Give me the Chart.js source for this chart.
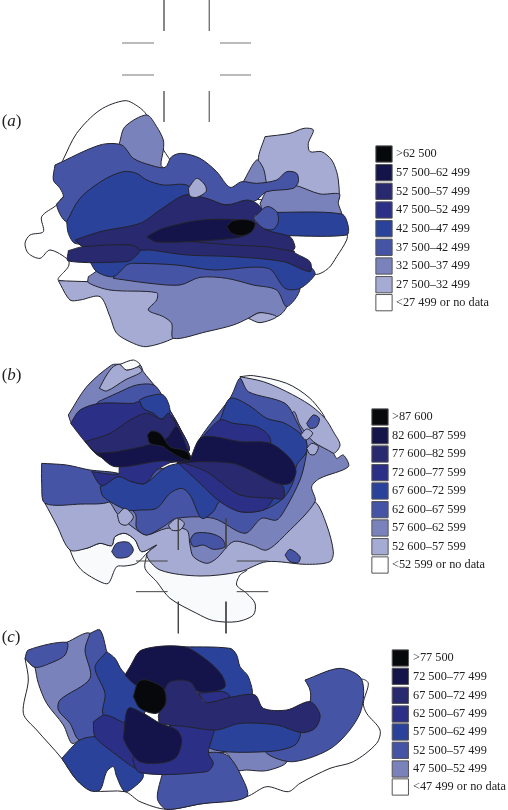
<!DOCTYPE html>
<html>
<head>
<meta charset="utf-8">
<style>
html, body { margin: 0; padding: 0; background: #fff; }
canvas { display: block; }
</style>
<script src="https://cdn.jsdelivr.net/npm/chart.js@4/dist/chart.umd.min.js"></script>
</head>
<body>
<canvas id="chart" width="508" height="810"></canvas>
<script>
// all outlines are read off the picture at 3x, per panel (y is relative to the panel top)
// shapes run on underneath the next layer up, so each border comes from the upper shape only
const black = '#07080c', c1 = '#14144a', c2 = '#28296f', c3 = '#2b2f85', c4 = '#2a429a',
      c5 = '#4554a4', c6 = '#7a82bb', c7 = '#a6abd4', white = '#ffffff', paleB = '#f8fafc';

const panelTopA = 270, panelTopB = 1065, panelTopC = 1740;

// ---- panel a
const aOutline = [[188,212],[230,130],[300,60],[375,32],[415,50],[440,75],[470,150],[600,300],[950,350],[1040,430],[1040,450],[1010,500],[985,535],[945,553],[800,500],[400,500],[300,570],[175,570],[205,530],[205,510],[150,480],[120,505],[85,490],[75,460],[90,435],[130,425],[125,380],[170,345],[190,320],[250,300],[188,212]];
const aRight7 = [[795,140],[870,130],[912,115],[940,120],[925,160],[930,185],[965,185],[995,210],[1010,245],[1015,270],[1018,312],[1015,330],[850,330],[800,280],[775,210],[795,140]];
const aWedge6 = [[730,275],[770,210],[790,235],[798,272],[800,290],[730,290],[730,275]];
const aRight6 = [[780,340],[810,290],[880,285],[960,312],[1018,312],[1015,340],[1025,370],[1025,385],[800,385],[780,340]];
const aTop6 = [[358,160],[375,110],[440,75],[470,110],[490,150],[490,180],[483,225],[495,240],[400,240],[340,190],[358,160]];
const aLow7 = [[175,572],[265,575],[500,580],[540,720],[520,745],[440,770],[400,760],[350,730],[330,680],[300,620],[240,630],[210,630],[175,572]];
const aLow6 = [[265,560],[320,530],[800,540],[850,610],[860,650],[830,680],[780,668],[745,685],[700,705],[620,725],[520,745],[515,700],[490,680],[445,660],[470,630],[470,608],[330,600],[265,578],[265,560]];
const aSliver7 = [[745,685],[780,668],[830,680],[780,698],[745,685]];
const aLow5 = [[340,565],[360,510],[700,510],[860,520],[900,595],[860,650],[830,600],[760,585],[680,565],[600,562],[540,585],[450,580],[340,565]];
const aLow4 = [[270,515],[290,490],[430,470],[700,480],[850,500],[930,530],[945,553],[900,595],[855,595],[805,535],[640,540],[530,525],[400,520],[380,525],[340,560],[290,545],[270,515]];
const aUp5 = [[165,225],[300,165],[365,165],[400,205],[450,225],[495,232],[515,200],[545,190],[600,205],[650,245],[690,292],[725,275],[770,280],[830,270],[860,245],[890,250],[895,275],[880,295],[800,305],[770,330],[740,340],[600,340],[560,300],[400,300],[250,350],[200,395],[170,345],[190,320],[180,295],[160,270],[165,225]];
const aUp4 = [[200,395],[240,325],[310,270],[370,245],[410,250],[440,270],[490,285],[560,285],[590,320],[600,340],[500,380],[400,430],[300,460],[225,460],[205,430],[200,395]];
const aRight4 = [[800,367],[1025,372],[1045,410],[1040,435],[870,437],[800,430],[800,367]];
const aMain2 = [[225,450],[300,425],[420,400],[480,360],[555,315],[620,325],[680,345],[740,330],[770,340],[785,360],[760,385],[800,420],[870,440],[885,470],[880,485],[930,515],[930,545],[850,515],[700,500],[560,495],[450,480],[420,480],[390,465],[250,470],[225,450]];
const aLeft2 = [[205,482],[250,470],[390,465],[420,480],[400,505],[380,515],[205,513],[205,482]];
const aCore1 = [[440,440],[490,415],[590,392],[690,388],[760,400],[740,435],[640,450],[470,456],[440,440]];
const aBlack = [[680,410],[700,392],[745,390],[765,400],[755,425],[725,437],[695,430],[680,410]];
const aDot7 = [[565,295],[590,265],[615,285],[618,305],[590,322],[570,318],[565,295]];
const aBlob5 = [[760,385],[800,350],[830,365],[835,395],[820,418],[790,415],[760,385]];
const aThinLine = [[575,455],[700,465],[800,470],[885,485]];

// ---- panel b
const bPaleLow = [[440,600],[435,640],[470,680],[510,730],[590,775],[640,797],[710,800],[760,780],[765,745],[740,715],[710,690],[720,660],[740,645],[600,640],[480,630],[440,600]];
const bPaleLeft = [[210,585],[260,580],[300,565],[335,572],[345,545],[375,535],[405,555],[425,590],[470,570],[445,590],[410,625],[375,633],[350,635],[325,685],[300,680],[250,650],[225,620],[210,585]];
const bPaleRight = [[720,65],[760,62],[860,85],[930,130],[975,190],[930,170],[860,130],[790,100],[720,65]];
const bBase7 = [[135,445],[245,430],[400,430],[560,450],[800,470],[900,450],[945,440],[980,510],[1000,590],[990,620],[920,628],[800,620],[720,650],[600,663],[480,645],[440,600],[470,570],[425,590],[405,555],[375,535],[345,545],[335,572],[300,565],[260,580],[210,585],[170,510],[135,445]];
const bRight7 = [[720,65],[790,80],[860,110],[930,150],[975,190],[1000,230],[1020,270],[1000,295],[950,270],[880,250],[830,180],[745,130],[720,65]];
const bMid6 = [[245,447],[320,435],[355,480],[410,525],[440,540],[500,520],[560,525],[570,570],[580,605],[620,625],[650,610],[700,560],[755,570],[800,585],[860,535],[945,440],[935,395],[960,370],[1045,335],[1030,300],[1010,310],[1000,295],[940,260],[900,210],[880,170],[800,300],[500,350],[300,380],[245,447]];
const bWing5 = [[125,325],[200,330],[270,345],[355,355],[400,380],[330,440],[245,447],[135,445],[125,385],[125,325]];
const bTopLeft6 = [[205,180],[260,95],[335,30],[360,28],[420,30],[430,50],[470,100],[500,150],[540,220],[565,290],[572,315],[340,320],[215,205],[205,180]];
const bTopLeft7 = [[298,100],[320,60],[340,35],[360,28],[380,45],[415,35],[425,50],[375,75],[320,108],[298,100]];
const bPaleTop = [[360,28],[400,15],[420,30],[380,45],[360,28]];
const bTopLeft5 = [[295,140],[350,115],[410,90],[465,92],[500,150],[540,220],[565,290],[400,300],[250,200],[295,140]];
const bTopLeft3 = [[212,205],[240,165],[300,145],[400,145],[418,140],[430,160],[460,175],[485,192],[505,175],[540,220],[565,290],[400,330],[300,305],[255,260],[212,205]];
const bTopLeft4 = [[418,135],[440,125],[490,120],[510,170],[485,192],[460,175],[430,160],[418,135]];
const bTopLeft2 = [[255,260],[330,235],[390,195],[440,175],[485,192],[505,175],[530,215],[520,240],[500,270],[340,320],[290,295],[255,260]];
const bCentre5 = [[300,385],[405,475],[410,520],[440,540],[490,515],[530,490],[640,490],[735,535],[785,490],[830,495],[860,455],[900,375],[915,320],[920,270],[890,200],[855,145],[745,110],[720,70],[700,110],[690,130],[600,250],[570,320],[350,360],[300,385]];
const bCentre4 = [[300,395],[355,365],[395,380],[435,385],[500,335],[560,320],[600,300],[660,195],[690,130],[745,150],[800,190],[855,205],[915,250],[920,290],[890,330],[880,380],[850,430],[790,465],[720,470],[660,440],[640,470],[605,490],[570,420],[545,400],[510,415],[470,460],[420,465],[380,465],[310,425],[300,395]];
const bLeft3 = [[275,350],[355,357],[360,335],[520,315],[470,345],[435,385],[395,380],[355,365],[305,392],[275,350]];
const bRight3 = [[600,255],[660,195],[700,205],[770,215],[805,240],[810,265],[700,280],[600,270],[600,255]];
const bLow3 = [[530,320],[700,340],[820,400],[820,430],[790,465],[720,470],[660,440],[600,385],[530,320]];
const bBand2 = [[540,320],[700,320],[830,380],[850,395],[850,430],[820,430],[720,420],[660,380],[620,350],[540,320]];
const bLeft1 = [[290,295],[350,290],[445,270],[500,250],[530,215],[565,290],[572,318],[480,318],[345,335],[290,295]];
const bRight1 = [[570,315],[600,250],[640,245],[720,260],[810,265],[870,310],[888,350],[870,385],[830,385],[760,350],[700,325],[600,320],[530,325],[570,315]];
const bBlack = [[442,240],[455,228],[480,235],[510,275],[550,285],[565,295],[572,315],[550,312],[510,290],[490,275],[450,265],[442,240]];
const bBlobA5 = [[335,590],[350,565],[385,562],[400,585],[385,605],[350,608],[335,590]];
const bBlobB5 = [[570,555],[585,535],[630,535],[665,550],[675,575],[640,583],[610,570],[580,575],[570,555]];
const bBlobC5 = [[855,600],[870,583],[900,605],[895,622],[870,620],[855,600]];
const bBlobD5 = [[920,205],[940,180],[958,190],[950,215],[930,220],[920,205]];
const bDotA7 = [[352,480],[375,460],[400,485],[380,510],[360,505],[352,480]];
const bDotB7 = [[505,510],[530,490],[553,505],[540,525],[515,525],[505,510]];
const bDotC7 = [[902,240],[920,222],[938,235],[918,255],[902,240]];
const bDotD7 = [[920,280],[935,265],[955,275],[945,298],[930,298],[920,280]];

// ---- panel c
const cOutline = [[75,235],[85,300],[70,400],[110,450],[185,535],[230,600],[280,632],[375,635],[420,665],[500,688],[600,672],[740,650],[800,620],[865,635],[900,610],[990,565],[1060,545],[1130,490],[1140,450],[1100,400],[1090,370],[1105,310],[1085,298],[1000,350],[900,430],[700,400],[500,350],[350,300],[250,250],[200,270],[105,262],[75,235]];
const cLeft6 = [[105,262],[85,230],[200,187],[270,160],[300,250],[300,400],[237,480],[215,490],[190,435],[140,370],[115,310],[105,262]];
const cCap5 = [[75,235],[85,210],[200,187],[195,225],[150,250],[105,262],[75,235]];
const cLeft5 = [[270,160],[300,150],[320,215],[340,300],[340,430],[285,470],[237,480],[210,430],[175,390],[180,360],[270,295],[255,210],[270,160]];
const cCol4 = [[320,215],[345,235],[365,270],[405,310],[440,350],[420,430],[375,430],[310,405],[315,340],[285,262],[320,215]];
const cBlob4 = [[185,535],[240,480],[285,470],[320,480],[420,560],[430,590],[410,615],[375,635],[350,590],[340,560],[320,575],[300,630],[270,632],[230,600],[185,535]];
const cLeft3 = [[280,425],[315,405],[375,430],[420,450],[420,550],[415,570],[330,510],[285,470],[280,425]];
const cTop4 = [[530,200],[690,205],[710,225],[720,260],[745,290],[755,350],[695,370],[600,350],[600,270],[530,200]];
const cTop1 = [[375,285],[390,260],[425,210],[550,200],[620,240],[665,285],[675,320],[640,335],[595,335],[570,320],[500,340],[440,330],[400,310],[375,285]];
const cSmall3 = [[595,340],[670,335],[690,350],[620,368],[595,340]];
const cLow6 = [[620,495],[800,495],[860,545],[800,572],[740,570],[710,570],[680,520],[620,520],[620,495]];
const cBottom5 = [[490,570],[600,560],[620,520],[680,525],[720,580],[740,650],[600,672],[500,688],[472,655],[490,570]];
const cRight5 = [[915,300],[1020,265],[1085,298],[1080,400],[1000,500],[880,545],[800,520],[800,480],[900,420],[930,365],[930,330],[915,300]];
const cRight4 = [[635,440],[720,410],[830,415],[900,450],[885,495],[800,515],[630,505],[635,440]];
const cLow3 = [[510,420],[640,430],[625,520],[640,550],[620,575],[420,578],[400,530],[460,540],[500,500],[510,420]];
const cMain2 = [[475,410],[490,340],[510,305],[570,305],[600,350],[620,368],[700,350],[765,345],[790,385],[860,390],[930,365],[960,405],[945,445],[905,458],[830,435],[720,430],[650,450],[560,440],[480,430],[475,410]];
const cLow1 = [[370,475],[385,385],[430,400],[480,430],[530,450],[545,480],[530,530],[490,548],[420,545],[385,505],[370,475]];
const cBlack = [[400,350],[415,305],[440,300],[490,325],[497,370],[470,400],[420,385],[400,350]];

// ---- crosshair marks, whole page at 3x
const marksTop = [[[492,0],[492,93]],[[628,0],[628,93]],[[366,129],[462,129]],[[660,129],[753,129]],[[366,225],[462,225]],[[660,225],[753,225]],[[492,273],[492,366]],[[628,273],[628,366]]];
const marksMid = [[[535,1555],[535,1650]],[[678,1555],[678,1645]],[[408,1683],[503,1683]],[[710,1683],[805,1683]],[[408,1775],[503,1775]],[[710,1775],[805,1775]],[[535,1805],[535,1900]],[[678,1805],[678,1900]]];

// ---- legends
const legendColorsA = [black, c1, c2, c3, c4, c5, c6, c7, white];
const legendLabelsA = ['>62 500','57 500–62 499','52 500–57 499','47 500–52 499','42 500–47 499','37 500–42 499','32 500–37 499','27 500–32 499','<27 499 or no data'];
const legendRowsA = [462,518,574,630,686,742,798,854,908];
const legendLabelsB = ['>87 600','82 600–87 599','77 600–82 599','72 600–77 599','67 600–72 599','62 600–67 599','57 600–62 599','52 600–57 599','<52 599 or no data'];
const legendRowsB = [1251,1307,1362,1418,1473,1529,1584,1640,1695];
const legendColorsC = [black, c1, c2, c3, c4, c5, c6, white];
const legendLabelsC = ['>77 500','72 500–77 499','67 500–72 499','62 500–67 499','57 500–62 499','52 500–57 499','47 500–52 499','<47 499 or no data'];
const legendRowsC = [1974,2029,2086,2142,2196,2251,2307,2361];

const layersA = [[aOutline,white],[aRight7,c7],[aWedge6,c6],[aRight6,c6],[aTop6,c6],[aLow7,c7],[aLow6,c6],[aSliver7,c7],[aLow5,c5],[aLow4,c4],[aUp5,c5],[aUp4,c4],[aRight4,c4],[aMain2,c2],[aLeft2,c2],[aCore1,c1],[aBlack,black],[aDot7,c7],[aBlob5,c5]];
const layersB = [[bPaleLow,paleB],[bPaleLeft,paleB],[bPaleRight,paleB],[bBase7,c7],[bRight7,c7],[bMid6,c6],[bWing5,c5],[bTopLeft6,c6],[bTopLeft7,c7],[bPaleTop,paleB],[bTopLeft5,c5],[bCentre5,c5],[bCentre4,c4],[bTopLeft3,c3],[bTopLeft4,c4],[bLeft3,c3],[bRight3,c3],[bLow3,c3],[bTopLeft2,c2],[bBand2,c2],[bLeft1,c1],[bRight1,c1],[bBlack,black],[bBlobA5,c5],[bBlobB5,c5],[bBlobC5,c5],[bBlobD5,c5],[bDotA7,c7],[bDotB7,c7],[bDotC7,c7],[bDotD7,c7]];
const layersC = [[cOutline,white],[cLeft6,c6],[cCap5,c5],[cLeft5,c5],[cCol4,c4],[cBlob4,c4],[cLeft3,c3],[cTop4,c4],[cTop1,c1],[cSmall3,c3],[cLow6,c6],[cBottom5,c5],[cRight5,c5],[cRight4,c4],[cLow3,c3],[cMain2,c2],[cLow1,c1],[cBlack,black]];

function toXY(points, top) {
    return points.map(p => ({ x: p[0], y: p[1] + top }));
}

function regionDatasets(layers, top) {
    return layers.map(l => ({
        data: toXY(l[0], top),
        showLine: true,
        fill: 'shape',
        backgroundColor: l[1],
        borderColor: '#23232d',
        borderWidth: 1,
        tension: 0.3,
        pointRadius: 0
    }));
}

function lineDatasets(lines, top, color) {
    return lines.map(l => ({
        data: toXY(l, top),
        showLine: true,
        fill: false,
        borderColor: color,
        borderWidth: 1,
        tension: 0,
        pointRadius: 0
    }));
}

function swatchDataset(x, rows, colors) {
    return {
        data: rows.map(r => ({ x: x, y: r })),
        showLine: false,
        pointStyle: 'rect',
        pointRadius: 11.5,
        pointBackgroundColor: colors,
        pointBorderColor: '#555',
        pointBorderWidth: 1
    };
}

const textPlugin = {
    id: 'textPlugin',
    afterDraw(chart) {
        const ctx = chart.ctx;
        const sx = chart.scales.x, sy = chart.scales.y;
        ctx.save();
        ctx.fillStyle = '#222';
        ctx.textBaseline = 'middle';
        ctx.font = '12.3px "Liberation Serif"';
        legendLabelsA.forEach((t, i) => ctx.fillText(t, sx.getPixelForValue(1188), sy.getPixelForValue(legendRowsA[i])));
        legendLabelsB.forEach((t, i) => ctx.fillText(t, sx.getPixelForValue(1176), sy.getPixelForValue(legendRowsB[i])));
        legendLabelsC.forEach((t, i) => ctx.fillText(t, sx.getPixelForValue(1239), sy.getPixelForValue(legendRowsC[i])));
        // panel letters, italic inside upright brackets
        ctx.textBaseline = 'alphabetic';
        [['a', 378], ['b', 1140], ['c', 1926]].forEach(p => {
            let x = sx.getPixelForValue(5);
            const y = sy.getPixelForValue(p[1]);
            ctx.font = '17px "Liberation Serif"';
            ctx.fillText('(', x, y);
            x += ctx.measureText('(').width;
            ctx.font = 'italic 17px "Liberation Serif"';
            ctx.fillText(p[0], x, y);
            x += ctx.measureText(p[0]).width;
            ctx.font = '17px "Liberation Serif"';
            ctx.fillText(')', x, y);
        });
        ctx.restore();
    }
};

// first dataset ends up on top in Chart.js, so the stack gets reversed
const stack = [
    ...lineDatasets(marksTop, 0, '#777'),
    ...regionDatasets(layersA, panelTopA),
    lineDatasets([aThinLine], panelTopA, '#23232d')[0],
    ...regionDatasets(layersB, panelTopB),
    ...regionDatasets(layersC, panelTopC),
    ...lineDatasets(marksMid, 0, '#444'),
    swatchDataset(1152, legendRowsA, legendColorsA),
    swatchDataset(1140, legendRowsB, legendColorsA),
    swatchDataset(1201, legendRowsC, legendColorsC)
].reverse();

new Chart(document.getElementById('chart'), {
    type: 'scatter',
    data: { datasets: stack },
    plugins: [textPlugin],
    options: {
        responsive: false,
        animation: false,
        events: [],
        layout: { padding: 0, autoPadding: false },
        plugins: { legend: { display: false }, tooltip: { enabled: false } },
        scales: {
            x: { type: 'linear', min: 0, max: 1524, display: false },
            y: { type: 'linear', min: 0, max: 2430, reverse: true, display: false }
        }
    }
});
</script>
</body>
</html>
